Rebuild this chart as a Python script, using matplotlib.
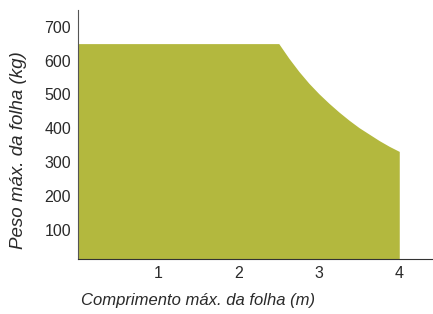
import matplotlib
matplotlib.use('Agg')
import matplotlib.pyplot as plt

# leaf length (m) vs max leaf weight (kg)
lengths = [0, 2.5, 2.625, 2.75, 2.875, 3.0, 3.125, 3.25, 3.375, 3.5, 3.625, 3.75, 3.875, 4.0]
weights = [650, 650, 607, 568, 533, 502, 474, 448, 424, 402, 383, 364, 347, 332]
x_ticks = [1, 2, 3, 4]
y_ticks = [100, 200, 300, 400, 500, 600, 700]

fill_color = '#b3b83e'
text_color = '#2a2a2a'

plt.rcParams['font.family'] = ['Liberation Sans', 'DejaVu Sans']

fig = plt.figure(figsize=(4.33, 3.14), dpi=100)
ax = fig.add_axes([0.180, 0.175, 0.82, 0.793])

ax.fill_between(lengths, weights, 0, color=fill_color, linewidth=0)

ax.set_xlim(0, 4.42)
ax.set_ylim(14.5, 749)
ax.set_xticks(x_ticks)
ax.set_yticks(y_ticks)
ax.tick_params(length=0, labelsize=11.5, labelcolor=text_color)
ax.tick_params(axis='x', pad=5)
ax.tick_params(axis='y', pad=5)

for side in ['top', 'right']:
    ax.spines[side].set_visible(False)
ax.spines['left'].set_color('#555555')
ax.spines['bottom'].set_color('#333333')
ax.spines['left'].set_linewidth(0.8)
ax.spines['bottom'].set_linewidth(0.8)

fig.text(198 / 433, 1 - 301 / 314, 'Comprimento máx. da folha (m)', fontsize=12,
         style='italic', color=text_color, ha='center', va='center')
fig.text(19 / 433, 1 - 150 / 314, 'Peso máx. da folha (kg)', fontsize=13.5,
         style='italic', color=text_color, ha='center', va='center', rotation=90)

fig.savefig('out.png', dpi=100)
